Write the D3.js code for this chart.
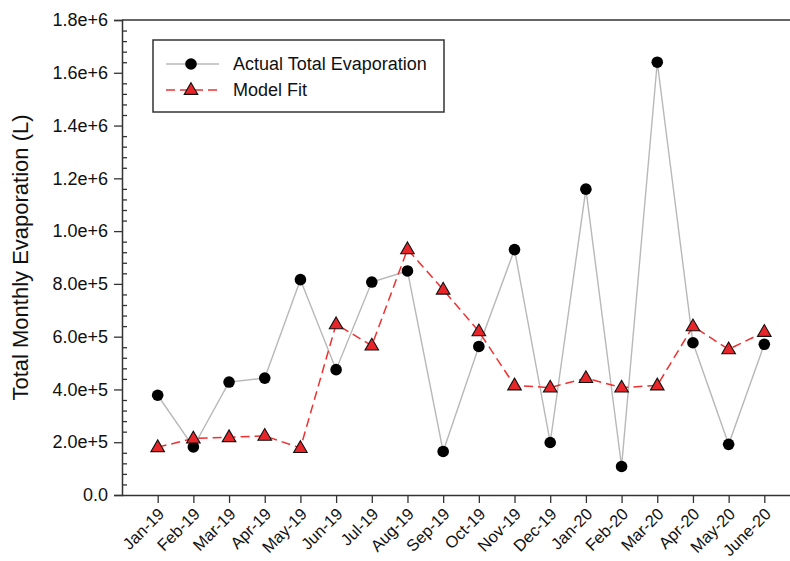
<!DOCTYPE html>
<html>
<head>
<meta charset="utf-8">
<script src="https://cdn.jsdelivr.net/npm/d3@7"></script>
<style>
  html, body { margin: 0; padding: 0; background: #fff; }
  svg { display: block; font-family: "Liberation Sans", Arial, sans-serif; }
</style>
</head>
<body>
<svg id="chart" width="790" height="561"></svg>
<script>
// Monthly evaporation: measured totals vs. model fit
const months = ["Jan-19","Feb-19","Mar-19","Apr-19","May-19","Jun-19","Jul-19","Aug-19","Sep-19",
                "Oct-19","Nov-19","Dec-19","Jan-20","Feb-20","Mar-20","Apr-20","May-20","June-20"];
const actualEvap = [378000,182000,428000,443000,816000,475000,807000,849000,165000,
                    563000,930000,199000,1159000,108000,1640000,577000,192000,571000];
const modelFit   = [181000,214000,219000,224000,178000,647000,566000,931000,778000,
                    620000,415000,407000,443000,407000,415000,639000,552000,618000];
const yTicks      = [0,200000,400000,600000,800000,1000000,1200000,1400000,1600000,1800000];
const yTickLabels = ["0.0","2.0e+5","4.0e+5","6.0e+5","8.0e+5","1.0e+6","1.2e+6","1.4e+6","1.6e+6","1.8e+6"];
const seriesNames = ["Actual Total Evaporation","Model Fit"];

const svg = d3.select("#chart");
const plotLeft = 122, plotTop = 20, plotBottom = 495, plotRight = 800;

const x = d3.scaleLinear().domain([-1, months.length]).range([plotLeft, plotRight]);
const y = d3.scaleLinear().domain([0, 1800000]).range([plotBottom, plotTop]);

const axisColor = "#333";

// frame: top border
svg.append("line")
  .attr("x1", plotLeft).attr("x2", 790).attr("y1", plotTop).attr("y2", plotTop)
  .attr("stroke", axisColor).attr("stroke-width", 1.5);

// minor y ticks (inside)
const minorVals = d3.range(0, 1800001, 40000).filter(v => v % 200000 !== 0);
svg.append("g")
  .attr("transform", `translate(${plotLeft},0)`)
  .call(d3.axisLeft(y).tickValues(minorVals).tickSize(-5).tickFormat(""))
  .call(g => g.select(".domain").remove())
  .call(g => g.selectAll("line").attr("stroke", axisColor).attr("stroke-width", 1.3));

// major y axis
const yAxis = svg.append("g")
  .attr("transform", `translate(${plotLeft},0)`)
  .call(d3.axisLeft(y).tickValues(yTicks).tickSize(8).tickPadding(6)
        .tickFormat((d, i) => yTickLabels[i]));
yAxis.select(".domain").attr("stroke", axisColor).attr("stroke-width", 1.5);
yAxis.selectAll("line").attr("stroke", axisColor).attr("stroke-width", 1.3);
yAxis.selectAll("text").attr("font-size", 18).attr("fill", "#111")
  .attr("font-family", "'Liberation Sans', Arial, sans-serif");

// x axis
const xAxis = svg.append("g")
  .attr("transform", `translate(0,${plotBottom})`)
  .call(d3.axisBottom(x).tickValues(d3.range(months.length)).tickSize(8)
        .tickFormat(i => months[i]));
xAxis.select(".domain").attr("stroke", axisColor).attr("stroke-width", 1.5)
  .attr("d", `M${plotLeft},0.5H790`);
xAxis.selectAll("line").attr("stroke", axisColor).attr("stroke-width", 1.3);
xAxis.selectAll("text")
  .attr("font-size", 16.5).attr("fill", "#111")
  .attr("font-family", "'Liberation Sans', Arial, sans-serif")
  .attr("text-anchor", "end")
  .attr("dy", "0.35em")
  .attr("transform", "translate(3,16) rotate(-45)")
  .attr("y", 0).attr("x", 0);

// y axis title
svg.append("text")
  .attr("transform", `translate(28,${(plotTop + plotBottom) / 2}) rotate(-90)`)
  .attr("text-anchor", "middle")
  .attr("font-size", 22).attr("fill", "#111")
  .text("Total Monthly Evaporation (L)");

// lines
const line = d3.line().x((d, i) => x(i)).y(d => y(d));
svg.append("path").datum(actualEvap)
  .attr("d", line).attr("fill", "none")
  .attr("stroke", "#b8b8b8").attr("stroke-width", 1.4);
svg.append("path").datum(modelFit)
  .attr("d", line).attr("fill", "none")
  .attr("stroke", "#f03030").attr("stroke-width", 1.5)
  .attr("stroke-dasharray", "9,5");

// markers
const tri = d3.symbol().type(d3.symbolTriangle).size(80);
svg.append("g").selectAll("circle").data(actualEvap).join("circle")
  .attr("cx", (d, i) => x(i)).attr("cy", d => y(d)).attr("r", 5.8)
  .attr("fill", "#000");
svg.append("g").selectAll("path").data(modelFit).join("path")
  .attr("d", tri)
  .attr("transform", (d, i) => `translate(${x(i)},${y(d) + 0.5})`)
  .attr("fill", "#e8262a").attr("stroke", "#111").attr("stroke-width", 1.1);

// legend
const lg = svg.append("g");
lg.append("rect").attr("x", 153).attr("y", 40).attr("width", 291).attr("height", 72)
  .attr("fill", "#fff").attr("stroke", axisColor).attr("stroke-width", 1.5);
const rows = [64, 90];
// actual
lg.append("line").attr("x1", 166).attr("x2", 219).attr("y1", rows[0]).attr("y2", rows[0])
  .attr("stroke", "#b8b8b8").attr("stroke-width", 1.4);
lg.append("circle").attr("cx", 191).attr("cy", rows[0]).attr("r", 5.8).attr("fill", "#000");
// model
lg.append("line").attr("x1", 166).attr("x2", 219).attr("y1", rows[1]).attr("y2", rows[1])
  .attr("stroke", "#f03030").attr("stroke-width", 1.5).attr("stroke-dasharray", "9,5");
lg.append("path").attr("d", tri).attr("transform", `translate(191,${rows[1] + 0.5})`)
  .attr("fill", "#e8262a").attr("stroke", "#111").attr("stroke-width", 1.1);
seriesNames.forEach((name, i) => {
  lg.append("text").attr("x", 233).attr("y", rows[i]).attr("dy", "0.35em")
    .attr("font-size", 18).attr("fill", "#111").text(name);
});
</script>
</body>
</html>
